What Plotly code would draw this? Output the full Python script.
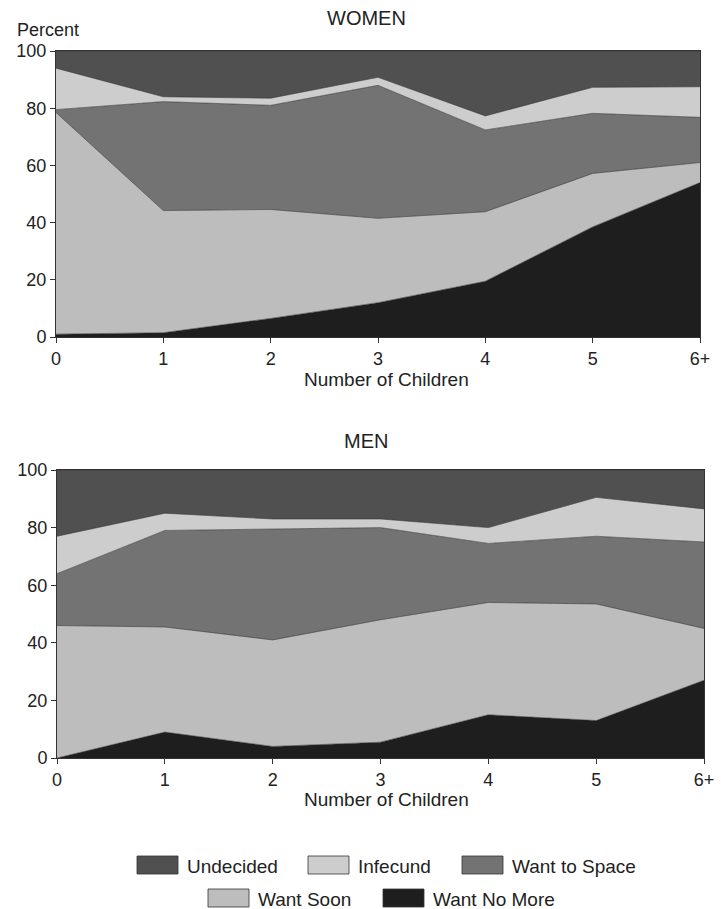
import plotly.graph_objects as go

categories = ["0", "1", "2", "3", "4", "5", "6+"]
x_pos = [0, 1, 2, 3, 4, 5, 6]
series_names = ["Want No More", "Want Soon", "Want to Space", "Infecund", "Undecided"]

women_no_more = [1.0, 1.5, 6.5, 12.0, 19.5, 38.5, 54.0]
women_soon = [77.5, 42.7, 38.1, 29.5, 24.3, 18.7, 7.0]
women_space = [1.0, 38.1, 36.4, 46.5, 28.6, 21.0, 15.8]
women_infecund = [14.5, 1.7, 2.5, 2.8, 4.9, 9.1, 10.7]
women_undecided = [6.0, 16.0, 16.5, 9.2, 22.7, 12.7, 12.5]

men_no_more = [0.0, 9.0, 4.0, 5.5, 15.0, 13.0, 27.0]
men_soon = [46.0, 36.5, 37.0, 42.5, 39.0, 40.5, 18.0]
men_space = [18.0, 33.5, 38.5, 32.0, 20.5, 23.5, 30.0]
men_infecund = [13.0, 6.0, 3.5, 3.0, 5.5, 13.5, 11.5]
men_undecided = [23.0, 15.0, 17.0, 17.0, 20.0, 9.5, 13.5]

y_ticks = [0, 20, 40, 60, 80, 100]

colors = {
    "Want No More": "#1e1e1e",
    "Want Soon": "#bdbdbd",
    "Want to Space": "#737373",
    "Infecund": "#cdcdcd",
    "Undecided": "#505050",
}

W, H = 721, 909
FONT = "Liberation Sans, Arial, Helvetica, sans-serif"

def px(x):
    return x / W

def py(y):
    return 1 - y / H

fig = go.Figure()

panels = [
    ("x", "y", [women_no_more, women_soon, women_space, women_infecund, women_undecided], "w"),
    ("x2", "y2", [men_no_more, men_soon, men_space, men_infecund, men_undecided], "m"),
]
for xa, ya, data, grp in panels:
    for name, vals in zip(series_names, data):
        fig.add_trace(go.Scatter(
            x=x_pos, y=vals, name=name, xaxis=xa, yaxis=ya,
            stackgroup=grp, mode="lines",
            line=dict(width=0.6, color="#333333"),
            fillcolor=colors[name], showlegend=False,
            hoverinfo="x+y+name",
        ))

axis_common = dict(
    showgrid=False, zeroline=False, showline=True, linecolor="#333333",
    linewidth=1, mirror=True, ticks="outside", ticklen=5, tickcolor="#333333",
    automargin=False,
    tickfont=dict(family=FONT, size=18, color="#222222"),
)

fig.update_layout(
    width=W, height=H,
    margin=dict(l=0, r=0, t=0, b=0),
    paper_bgcolor="white", plot_bgcolor="white",
    showlegend=False,
    xaxis=dict(domain=[px(56), px(700)], range=[0, 6], tickvals=x_pos,
               ticktext=categories, anchor="y", **axis_common),
    yaxis=dict(domain=[py(337), py(51)], range=[0, 100], tickvals=y_ticks,
               anchor="x", **axis_common),
    xaxis2=dict(domain=[px(57), px(704)], range=[0, 6], tickvals=x_pos,
                ticktext=categories, anchor="y2", **axis_common),
    yaxis2=dict(domain=[py(758), py(470)], range=[0, 100], tickvals=y_ticks,
                anchor="x2", **axis_common),
)

ann = []
def text(t, x, y, size=19, xanchor="center"):
    ann.append(dict(text=t, x=px(x), y=py(y), xref="paper", yref="paper",
                    showarrow=False, xanchor=xanchor, yanchor="middle",
                    font=dict(family=FONT, size=size, color="#222222")))

text("WOMEN", 366, 18, size=20)
text("Percent", 48, 30, size=18)
text("Number of Children", 386, 379)
text("MEN", 366, 441, size=20)
text("Number of Children", 386, 799)

shapes = []
legend_items = [
    ("Undecided", 137, 865),
    ("Infecund", 308, 865),
    ("Want to Space", 462, 865),
    ("Want Soon", 208, 898),
    ("Want No More", 383, 898),
]
for name, x0, yc in legend_items:
    shapes.append(dict(type="rect", xref="paper", yref="paper",
                       x0=px(x0), x1=px(x0 + 41), y0=py(yc + 9), y1=py(yc - 9),
                       fillcolor=colors[name], line=dict(color="#333333", width=0.8)))
    text(name, x0 + 48, yc + 1, size=19, xanchor="left")

fig.update_layout(annotations=ann, shapes=shapes)

fig.write_html(
    "out.html",
    config={"displayModeBar": False},
    post_script="document.body.style.margin='0';document.body.style.overflow='hidden';",
)
